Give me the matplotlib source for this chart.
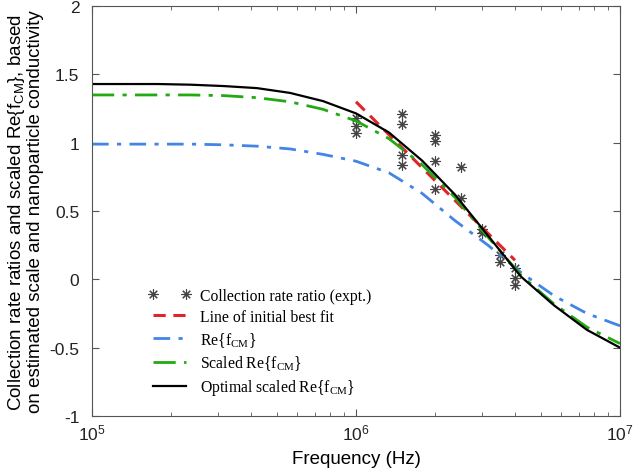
import numpy as np
import matplotlib
matplotlib.use('Agg')
import matplotlib.pyplot as plt

freq = 10 ** np.array([5.0, 5.125, 5.25, 5.375, 5.5, 5.625, 5.75, 5.875, 6.0,
                       6.125, 6.25, 6.375, 6.5, 6.625, 6.75, 6.875, 7.0])
re_fcm = [0.99, 0.99, 0.99, 0.99, 0.985, 0.975, 0.955, 0.915, 0.865,
          0.78, 0.63, 0.43, 0.25, 0.05, -0.12, -0.25, -0.34]
scaled = [1.35, 1.35, 1.35, 1.35, 1.345, 1.33, 1.30, 1.245, 1.16,
          1.03, 0.84, 0.60, 0.31, 0.03, -0.18, -0.35, -0.47]
optimal = [1.43, 1.43, 1.43, 1.425, 1.415, 1.40, 1.365, 1.305, 1.215,
           1.075, 0.87, 0.62, 0.32, 0.02, -0.19, -0.37, -0.50]

# line of initial best fit
fit_freq = [1e6, 4e6]
fit_val = [1.30, 0.14]

# measured collection rate ratios
expt_freq = [1e6, 1e6, 1e6,
             1.5e6, 1.5e6, 1.5e6, 1.5e6,
             2e6, 2e6, 2e6, 2e6,
             2.5e6, 2.5e6,
             3e6, 3e6,
             3.5e6, 3.5e6,
             4e6, 4e6, 4e6]
expt_val = [1.18, 1.12, 1.07,
            1.21, 1.14, 0.91, 0.84,
            1.06, 1.01, 0.87, 0.66,
            0.825, 0.595,
            0.37, 0.34,
            0.18, 0.13,
            0.085, 0.01, -0.04]

fig = plt.figure(figsize=(6.33, 4.77), dpi=100)
ax = fig.add_axes([0.1453, 0.1258, 0.8342, 0.8592])

ax.plot(expt_freq, expt_val, linestyle='none', marker=(8, 2, 0), markersize=7.5,
        markeredgewidth=0.8, color='#444444', label='Collection rate ratio (expt.)')
ax.plot(fit_freq, fit_val, '--', color='#e3232c', lw=2.2, dashes=(4, 2.5),
        label='Line of initial best fit')
ax.plot(freq, re_fcm, '-.', color='#4285e6', lw=2, dashes=(6, 3, 1.5, 3),
        label='Re{f$_{\\mathregular{CM}}$}')
ax.plot(freq, scaled, '-.', color='#22aa11', lw=2, dashes=(8, 3, 1.5, 3),
        label='Scaled Re{f$_{\\mathregular{CM}}$}')
ax.plot(freq, optimal, '-', color='black', lw=1.6,
        label='Optimal scaled Re{f$_{\\mathregular{CM}}$}')

ax.set_xscale('log')
ax.set_xlim(1e5, 1e7)
ax.set_ylim(-1, 2)
ax.set_yticks([-1, -0.5, 0, 0.5, 1, 1.5, 2])
ax.set_yticklabels(['-1', '-0.5', '0', '0.5', '1', '1.5', '2'])

for s in ax.spines.values():
    s.set_color('#555555')
    s.set_linewidth(0.8)
ax.tick_params(which='both', direction='in', top=True, right=True,
               colors='#555555', labelcolor='#222222', labelsize=12.5)
ax.tick_params(axis='y', pad=9)
ax.tick_params(axis='x', pad=5)
ax.tick_params(which='major', length=5)
ax.tick_params(which='minor', length=3)

ax.set_xlabel('Frequency (Hz)', fontsize=13.5, family='Liberation Sans', labelpad=5)
ax.set_ylabel('Collection rate ratios and scaled Re{f$_{\\mathregular{CM}}$}, based\n'
              'on estimated scale and nanoparticle conductivity',
              fontsize=13.5, family='Liberation Sans', labelpad=4, linespacing=1.0)
for lab in ax.get_xticklabels() + ax.get_yticklabels():
    lab.set_family('Liberation Sans')

ax.legend(loc='lower left', bbox_to_anchor=(0.095, 0.03), frameon=False,
          numpoints=2, handlelength=2.7, handletextpad=0.6, labelspacing=0.32,
          borderaxespad=0, prop={'family': 'Liberation Serif', 'size': 11.3})

fig.savefig('out.png', dpi=100)
